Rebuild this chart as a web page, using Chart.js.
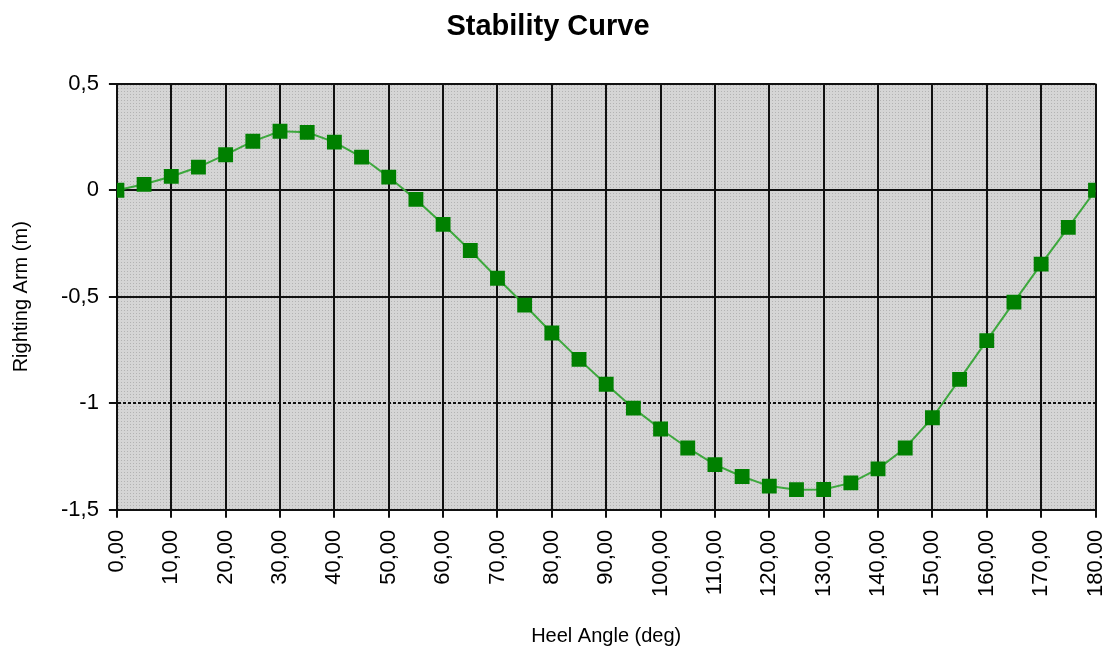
<!DOCTYPE html>
<html>
<head>
<meta charset="utf-8">
<title>Stability Curve</title>
<script src="https://cdn.jsdelivr.net/npm/chart.js@4"></script>
<style>
  html, body { margin: 0; background: #fff; overflow: hidden; }
  /* slightly wider than the window so the last rotated label is cut at the edge like the original */
  #wrap { width: 1106px; height: 648px; position: relative; }
</style>
</head>
<body>
<div id="wrap"><canvas id="stability"></canvas></div>
<script>
  // heel angles (deg) and righting arm (m)
  const heelAngles = [0, 5, 10, 15, 20, 25, 30, 35, 40, 45, 50, 55, 60, 65, 70, 75, 80, 85, 90,
    95, 100, 105, 110, 115, 120, 125, 130, 135, 140, 145, 150, 155, 160, 165, 170, 175, 180];
  const rightingArm = [0, 0.028, 0.065, 0.109, 0.167, 0.23, 0.277, 0.272, 0.226, 0.156, 0.062,
    -0.043, -0.16, -0.283, -0.413, -0.539, -0.67, -0.794, -0.911, -1.023, -1.121, -1.21, -1.288,
    -1.344, -1.389, -1.406, -1.405, -1.374, -1.308, -1.21, -1.068, -0.888, -0.706, -0.525,
    -0.347, -0.174, 0];

  const chartTitle = 'Stability Curve';
  const xTitle = 'Heel Angle (deg)';
  const yTitle = 'Righting Arm (m)';

  function comma(v, digits) {
    const s = digits === undefined ? String(v) : v.toFixed(digits);
    return s.replace('.', ',');
  }

  // dotted grey plot background
  const tile = document.createElement('canvas');
  tile.width = 3; tile.height = 3;
  {
    const t = tile.getContext('2d');
    t.fillStyle = '#d5d5d5';
    t.fillRect(0, 0, 3, 3);
    t.fillStyle = '#b3b3b3';
    t.fillRect(1, 1, 1, 1);
  }

  const plotBg = {
    id: 'plotBg',
    beforeDraw(chart) {
      const {ctx, chartArea: a} = chart;
      ctx.save();
      ctx.fillStyle = ctx.createPattern(tile, 'repeat');
      ctx.fillRect(a.left, a.top, a.right - a.left, a.bottom - a.top);
      ctx.strokeStyle = '#555';
      ctx.lineWidth = 1;
      ctx.beginPath();
      ctx.moveTo(a.right + 0.5, a.top);
      ctx.lineTo(a.right + 0.5, a.bottom);
      ctx.stroke();
      ctx.restore();
    }
  };

  Chart.defaults.font.family = '"Liberation Sans", Arial, sans-serif';
  Chart.defaults.color = '#000';

  new Chart(document.getElementById('stability'), {
    type: 'line',
    data: {
      datasets: [{
        label: yTitle,
        data: heelAngles.map((a, i) => ({x: a, y: rightingArm[i]})),
        borderColor: '#3da83d',
        borderWidth: 2,
        backgroundColor: '#008000',
        pointBackgroundColor: '#008000',
        pointBorderColor: '#008000',
        pointBorderWidth: 0,
        pointStyle: 'rect',
        pointRadius: 10.5,
        tension: 0
      }]
    },
    options: {
      responsive: true,
      maintainAspectRatio: false,
      animation: false,
      events: [],
      layout: {padding: {left: -10, right: 0, top: 0, bottom: 0}},
      plugins: {
        legend: {display: false},
        tooltip: {enabled: false},
        title: {
          display: true,
          text: chartTitle,
          font: {size: 29, weight: 'bold'},
          padding: {top: 10, bottom: 39}
        }
      },
      scales: {
        x: {
          type: 'linear',
          min: 0,
          max: 180,
          afterFit(scale) { scale.paddingRight = 0; scale.paddingLeft = 0; },
          ticks: {
            stepSize: 10,
            autoSkip: false,
            minRotation: 90,
            maxRotation: 90,
            font: {size: 22},
            padding: 12,
            callback: v => comma(v, 2)
          },
          grid: {color: '#111', lineWidth: 2, tickLength: 8, drawTicks: true},
          border: {color: '#111', width: 2},
          title: {
            display: true,
            text: xTitle,
            font: {size: 20},
            padding: {top: 15, bottom: 0}
          }
        },
        y: {
          min: -1.5,
          max: 0.5,
          ticks: {
            stepSize: 0.5,
            font: {size: 22},
            padding: 10,
            callback: v => comma(v)
          },
          grid: {color: '#111', lineWidth: 2, tickLength: 8},
          border: {
            color: '#111',
            width: 2,
            dash: c => (c.tick && c.tick.value === -1) ? [3, 2] : []
          },
          title: {
            display: true,
            text: yTitle,
            font: {size: 20},
            padding: {top: 19, bottom: 18}
          }
        }
      }
    },
    plugins: [plotBg]
  });
</script>
</body>
</html>
